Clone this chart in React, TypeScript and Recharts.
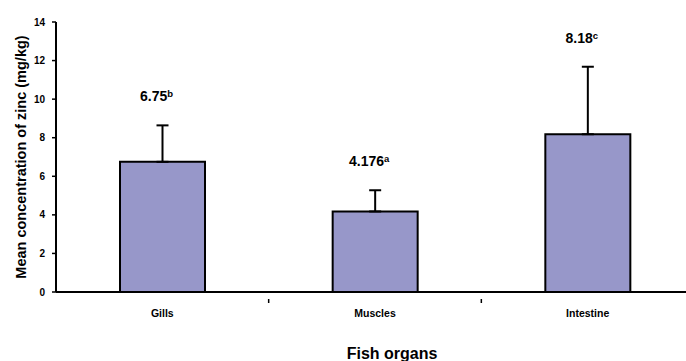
import React from 'react';
import { BarChart, Bar, XAxis, YAxis, ErrorBar, LabelList, Label } from 'recharts';

// organs and mean zinc concentration (mg/kg)
const organs = ['Gills', 'Muscles', 'Intestine'];
const means = [6.75, 4.176, 8.18];
const errors = [1.89, 1.1, 3.5];
const meanLabels = ['6.75', '4.176', '8.18'];
const letters = ['b', 'a', 'c'];
const yTicks = [0, 2, 4, 6, 8, 10, 12, 14];

const data = organs.map((o, i) => ({
  organ: o,
  mean: means[i],
  err: errors[i],
  errRange: [0, errors[i]],
}));

const FONT = '"Liberation Sans", Arial, sans-serif';

const ValueLabel = (props: any) => {
  const { x, y, width, index } = props;
  return (
    <text
      x={x + width / 2 - 6}
      y={y - 24}
      textAnchor="middle"
      fontFamily={FONT}
      fontWeight="bold"
      fontSize={14}
      fill="#000"
    >
      {meanLabels[index]}
      <tspan fontSize={9.5} dy={-4}>{letters[index]}</tspan>
    </text>
  );
};

const OrganTick = (props: any) => {
  const { x, y, payload, index } = props;
  const off = payload.offset || 0;
  return (
    <g>
      {index > 0 && <line x1={x - off} y1={y - 1} x2={x - off} y2={y + 3} stroke="#000" strokeWidth={1.5} />}
      <text x={x} y={y + 17} textAnchor="middle" fontFamily={FONT} fontWeight="bold" fontSize={10.5} fill="#000">
        {payload.value}
      </text>
    </g>
  );
};

export default function App() {
  return (
    <div style={{ position: 'fixed', left: 0, top: 0, width: 686, height: 361, overflow: 'hidden', background: '#fff' }}>
      <BarChart
        width={700}
        height={361}
        data={data}
        margin={{ top: 22, right: 6, left: 0, bottom: 0 }}
        barSize={85}
      >
        <XAxis
          dataKey="organ"
          height={69}
          axisLine={{ stroke: '#000', strokeWidth: 2 }}
          tickLine={false}
          tick={<OrganTick />}
          interval={0}
        >
          <Label
            value="Fish organs"
            position="insideBottom"
            offset={2}
            dx={17}
            style={{ fontFamily: FONT, fontWeight: 'bold', fontSize: 16, fill: '#000' }}
          />
        </XAxis>
        <YAxis
          width={56}
          domain={[0, 14]}
          ticks={yTicks}
          interval={0}
          axisLine={{ stroke: '#000', strokeWidth: 2 }}
          tickLine={{ stroke: '#000', strokeWidth: 1.5 }}
          tickSize={4}
          tickMargin={7}
          tick={{ fontFamily: FONT, fontWeight: 'bold', fontSize: 10, fill: '#000' }}
        >
          <Label
            value="Mean concentration of zinc (mg/kg)"
            angle={-90}
            position="center"
            dx={-7}
            style={{ fontFamily: FONT, fontWeight: 'bold', fontSize: 14.5, fill: '#000', textAnchor: 'middle' }}
          />
        </YAxis>
        <Bar dataKey="mean" stackId="s" fill="#9797C9" stroke="#000" strokeWidth={2} isAnimationActive={false}>
          <ErrorBar dataKey="errRange" direction="y" width={6} stroke="#000" strokeWidth={2} />
        </Bar>
        <Bar dataKey="err" stackId="s" fill="none" stroke="none" isAnimationActive={false}>
          <LabelList dataKey="err" content={<ValueLabel />} />
        </Bar>
      </BarChart>
    </div>
  );
}
